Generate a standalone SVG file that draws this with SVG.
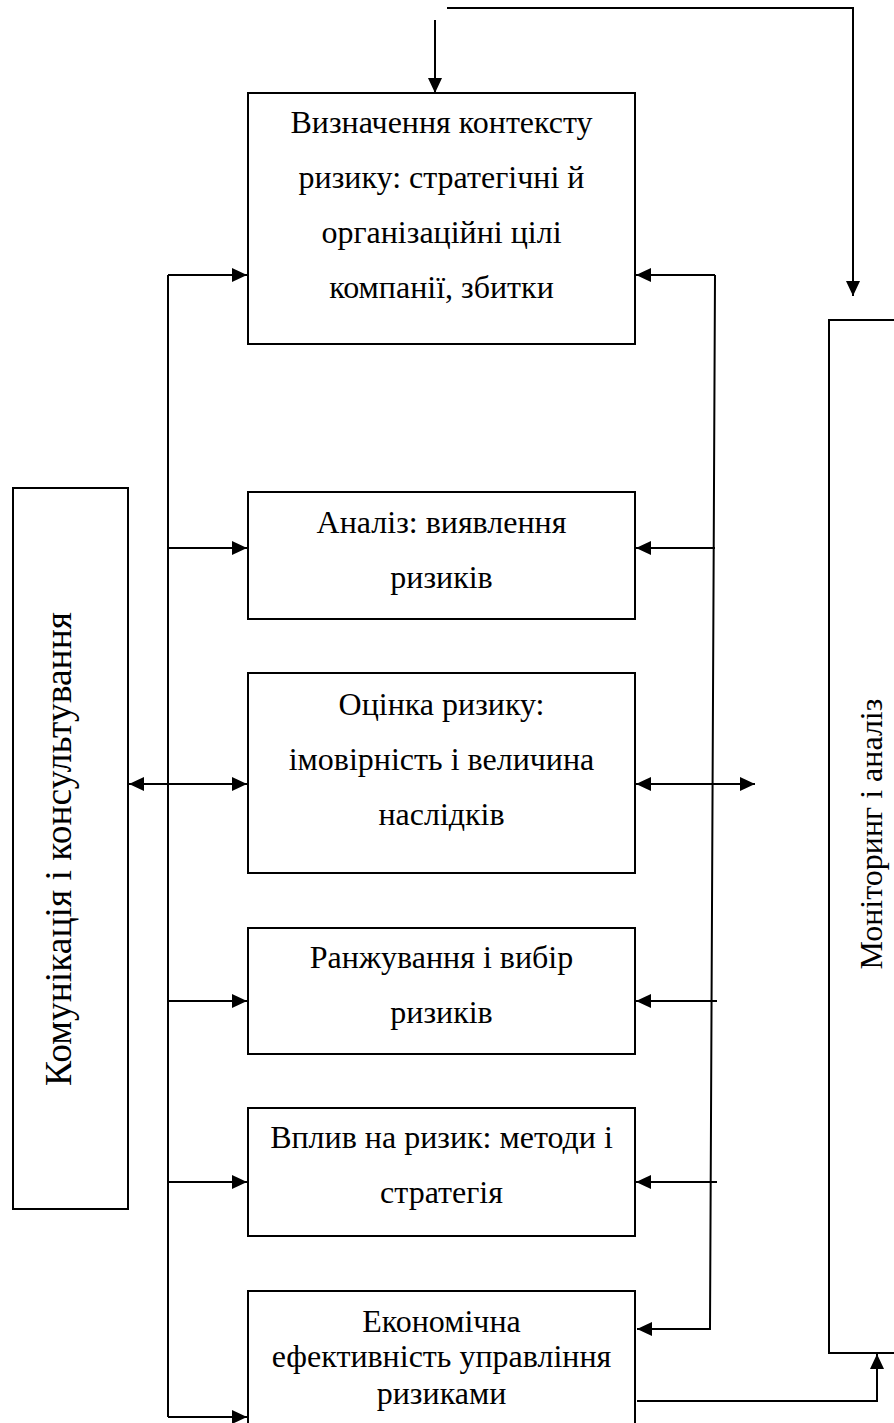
<svg xmlns="http://www.w3.org/2000/svg" width="894" height="1423" viewBox="0 0 894 1423">
<style>
.box{fill:#fff;stroke:#000;stroke-width:2}
.ln{fill:none;stroke:#000;stroke-width:2}
.t{font-family:"Liberation Serif","Times New Roman","DejaVu Serif",serif;font-size:32px;fill:#000;text-anchor:middle}
</style>
<defs>
<marker id="ah" viewBox="0 0 15 14" refX="15" refY="7" markerWidth="15" markerHeight="14" markerUnits="userSpaceOnUse" orient="auto-start-reverse">
<path d="M0,0 L15,7 L0,14 z" fill="#000"/>
</marker>
</defs>
<rect width="894" height="1423" fill="#fff"/>
<g id="connectors">
<line class="ln" x1="435" y1="20" x2="435" y2="93" marker-end="url(#ah)"/>
<polyline class="ln" points="447,8 853,8 853,296" marker-end="url(#ah)"/>
<line class="ln" x1="168" y1="275" x2="168" y2="1417"/>
<line class="ln" x1="168" y1="275" x2="247" y2="275" marker-end="url(#ah)"/>
<line class="ln" x1="168" y1="548" x2="247" y2="548" marker-end="url(#ah)"/>
<line class="ln" x1="129" y1="784" x2="247" y2="784" marker-start="url(#ah)" marker-end="url(#ah)"/>
<line class="ln" x1="168" y1="1001" x2="247" y2="1001" marker-end="url(#ah)"/>
<line class="ln" x1="168" y1="1182" x2="247" y2="1182" marker-end="url(#ah)"/>
<line class="ln" x1="168" y1="1417" x2="247" y2="1417" marker-end="url(#ah)"/>
<polyline class="ln" points="715,275 710,1329 637,1329" marker-end="url(#ah)"/>
<line class="ln" x1="715" y1="275" x2="636" y2="275" marker-end="url(#ah)"/>
<line class="ln" x1="715" y1="548" x2="636" y2="548" marker-end="url(#ah)"/>
<line class="ln" x1="636" y1="784" x2="755" y2="784" marker-start="url(#ah)" marker-end="url(#ah)"/>
<line class="ln" x1="717" y1="1001" x2="636" y2="1001" marker-end="url(#ah)"/>
<line class="ln" x1="717" y1="1182" x2="636" y2="1182" marker-end="url(#ah)"/>
<polyline class="ln" points="637,1401 877,1401 877,1354" marker-end="url(#ah)"/>
</g>
<g id="n-context">
<rect class="box" x="248" y="93" width="387" height="251"/>
<text class="t" x="441.5" y="133">Визначення контексту</text>
<text class="t" x="441.5" y="188">ризику: стратегічні й</text>
<text class="t" x="441.5" y="243">організаційні цілі</text>
<text class="t" x="441.5" y="298">компанії, збитки</text>
</g>
<g id="n-analysis">
<rect class="box" x="248" y="492" width="387" height="127"/>
<text class="t" x="441.5" y="533">Аналіз: виявлення</text>
<text class="t" x="441.5" y="588">ризиків</text>
</g>
<g id="n-assessment">
<rect class="box" x="248" y="673" width="387" height="200"/>
<text class="t" x="441.5" y="715">Оцінка ризику:</text>
<text class="t" x="441.5" y="770">імовірність і величина</text>
<text class="t" x="441.5" y="825">наслідків</text>
</g>
<g id="n-ranking">
<rect class="box" x="248" y="928" width="387" height="126"/>
<text class="t" x="441.5" y="968">Ранжування і вибір</text>
<text class="t" x="441.5" y="1023">ризиків</text>
</g>
<g id="n-impact">
<rect class="box" x="248" y="1108" width="387" height="128"/>
<text class="t" x="441.5" y="1148">Вплив на ризик: методи і</text>
<text class="t" x="441.5" y="1203">стратегія</text>
</g>
<g id="n-efficiency">
<rect class="box" x="248" y="1291" width="387" height="160"/>
<text class="t" x="441.5" y="1332">Економічна</text>
<text class="t" x="441.5" y="1367">ефективність управління</text>
<text class="t" x="441.5" y="1404">ризиками</text>
</g>
<g id="n-communication">
<rect class="box" x="13" y="488" width="115" height="721"/>
<text class="t" style="font-size:37.5px" transform="translate(71,849) rotate(-90)">Комунікація і консультування</text>
</g>
<g id="n-monitoring">
<rect class="box" x="829" y="320" width="90" height="1033"/>
<text class="t" transform="translate(882,834) rotate(-90)">Моніторинг і аналіз</text>
</g>
</svg>
